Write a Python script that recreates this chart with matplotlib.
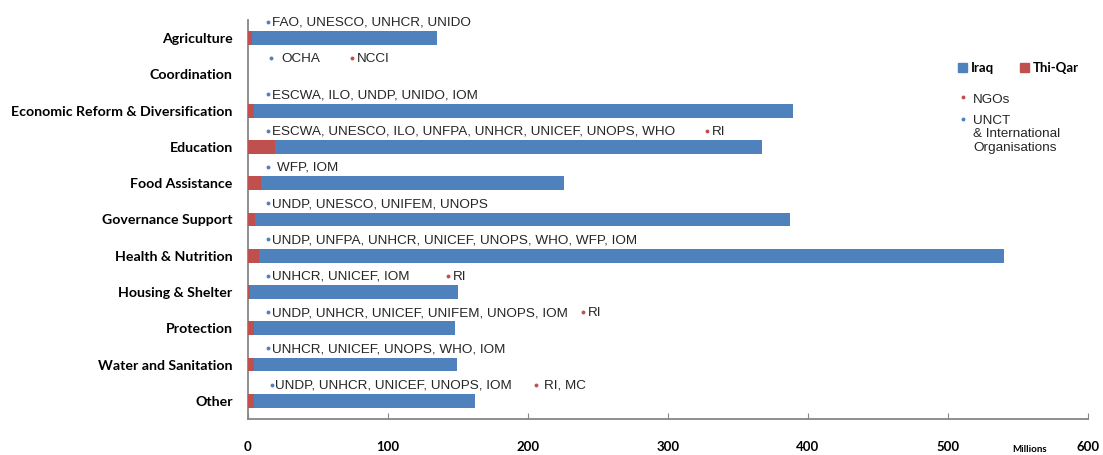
import numpy as np
import matplotlib
matplotlib.use('Agg')
import matplotlib.pyplot as plt
from matplotlib.patches import Rectangle

# Funding by sector (millions), Iraq overall vs Thi-Qar governorate
categories = ['Agriculture', 'Coordination', 'Economic Reform & Diversification',
              'Education', 'Food Assistance', 'Governance Support',
              'Health & Nutrition', 'Housing & Shelter', 'Protection',
              'Water and Sanitation', 'Other']
iraq   = [135, 0, 389, 367, 226, 387, 540, 150, 148, 149, 162]
thiqar = [3, 0, 4, 19, 9, 5, 8, 1.5, 4, 4, 4]

# Agencies working in each sector
uncts = ['FAO, UNESCO, UNHCR, UNIDO', 'OCHA', 'ESCWA, ILO, UNDP, UNIDO, IOM',
         'ESCWA, UNESCO, ILO, UNFPA, UNHCR, UNICEF, UNOPS, WHO', 'WFP, IOM',
         'UNDP, UNESCO, UNIFEM, UNOPS',
         'UNDP, UNFPA, UNHCR, UNICEF, UNOPS, WHO, WFP, IOM',
         'UNHCR, UNICEF, IOM', 'UNDP, UNHCR, UNICEF, UNIFEM, UNOPS, IOM',
         'UNHCR, UNICEF, UNOPS, WHO, IOM', 'UNDP, UNHCR, UNICEF, UNOPS, IOM']
ngos = ['', 'NCCI', '', 'RI', '', '', '', 'RI', 'RI', '', 'RI, MC']

xticks = [0, 100, 200, 300, 400, 500, 600]

# where the bullets of the annotations sit (in data units)
unct_x = [14.3, 16.5, 14.3, 14.3, 14.3, 14.3, 14.3, 14.3, 14.3, 14.3, 17.0]
unct_gap = [2.6, 7.0, 2.6, 2.6, 6.5, 2.6, 2.6, 2.6, 2.6, 2.6, 2.6]
ngo_x = [0, 74.5, 0, 328, 0, 0, 0, 143, 239, 0, 206]
ngo_gap = [3.5, 3.5, 3.5, 3.5, 3.5, 3.5, 3.5, 3.5, 3.5, 3.5, 5.5]

blue = '#4F81BD'
red = '#C0504D'
grey = '#868686'
txtc = '#262626'

fig = plt.figure(figsize=(11.03, 4.55), dpi=100)
ax = fig.add_axes([248/1103, 1-419/455, (1088-248)/1103, 399/455])

y = np.arange(len(categories))
ax.barh(y, iraq, height=0.38, color=blue, zorder=2)
ax.barh(y, thiqar, height=0.38, color=red, zorder=3)

for i in range(len(categories)):
    ya = y[i] - 0.42
    ax.plot(unct_x[i], ya - 0.03, 'o', ms=2.8, color=blue, mew=0, clip_on=False)
    ax.text(unct_x[i] + unct_gap[i], ya, uncts[i], fontsize=9.7, color=txtc,
            family='Liberation Sans', va='center', ha='left', clip_on=False)
    if ngos[i]:
        ax.plot(ngo_x[i], ya - 0.03, 'o', ms=2.8, color=red, mew=0, clip_on=False)
        ax.text(ngo_x[i] + ngo_gap[i], ya, ngos[i], fontsize=9.7, color=txtc,
                family='Liberation Sans', va='center', ha='left', clip_on=False)

ax.set_xlim(0, 600)
ax.set_ylim(len(categories) - 0.5, -0.5)
ax.set_xticks(xticks)
ax.set_xticklabels([str(v) for v in xticks], fontsize=9.5, fontweight='bold',
                   family='Lato')
ax.set_yticks(y)
ax.set_yticklabels(categories, fontsize=10.2, fontweight='bold', family='Lato')
ax.tick_params(axis='x', direction='in', length=4, color=grey, pad=16)
ax.tick_params(axis='y', length=0, pad=11)
for s in ['top', 'right']:
    ax.spines[s].set_visible(False)
for s in ['left', 'bottom']:
    ax.spines[s].set_color(grey)
    ax.spines[s].set_linewidth(1.3)

# legend, drawn by hand like the original
W, H = 1103.0, 455.0
fig.patches.append(Rectangle((958/W, 1-72/H), 9/W, 9/H, color=blue,
                             transform=fig.transFigure))
fig.text(971/W, 1-68/H, 'Iraq', fontsize=9.5, fontweight='bold', family='Lato',
         va='center')
fig.patches.append(Rectangle((1020/W, 1-72/H), 9/W, 9/H, color=red,
                             transform=fig.transFigure))
fig.text(1033/W, 1-68/H, 'Thi-Qar', fontsize=9.5, fontweight='bold', family='Lato',
         va='center')
fig.lines.append(plt.Line2D([963/W], [1-97/H], marker='o', ms=2.8, color=red,
                            mew=0, transform=fig.transFigure))
fig.text(973/W, 1-100/H, 'NGOs', fontsize=9.7, color=txtc,
         family='Liberation Sans', va='center')
fig.lines.append(plt.Line2D([963/W], [1-119/H], marker='o', ms=2.8, color=blue,
                            mew=0, transform=fig.transFigure))
fig.text(973/W, 1-115/H, 'UNCT\n& International\nOrganisations', fontsize=9.7,
         color=txtc, family='Liberation Sans', va='top', linespacing=1.15)

fig.text(1012/W, 1-449/H, 'Millions', fontsize=7, fontweight='bold',
         family='Lato', va='center')

fig.savefig('out.png', dpi=100)
